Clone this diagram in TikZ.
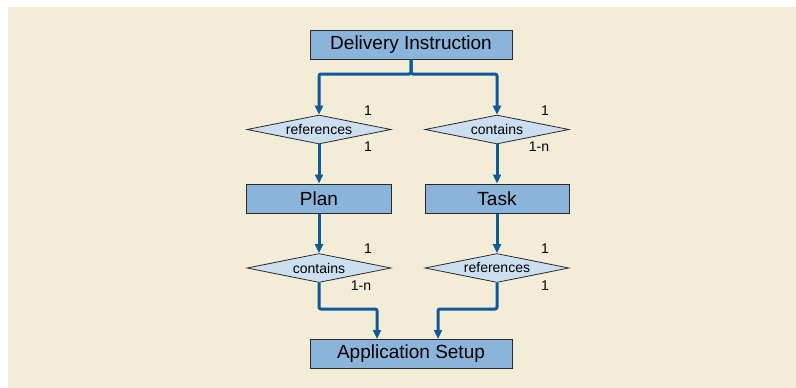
\documentclass[tikz,border=0pt]{standalone}
\usepackage{fontspec}
\setmainfont{Liberation Sans}
\usetikzlibrary{shapes.geometric,arrows.meta}
\definecolor{bgbeige}{HTML}{F3ECD6}
\definecolor{boxblue}{HTML}{8AB4D9}
\definecolor{diablue}{HTML}{CCDFF1}
\definecolor{linkblue}{HTML}{0B5A9C}
\definecolor{edgegray}{HTML}{2A2A2A}
\tikzset{
  entity/.style={draw=edgegray, line width=1pt, fill=boxblue, minimum width=#1, minimum height=29pt, inner sep=0pt, font=\fontsize{19}{21}\selectfont, text=black},
  relation/.style={diamond, draw=edgegray, line width=0.8pt, fill=diablue, aspect=5, minimum width=144pt, minimum height=29pt, inner sep=0pt, font=\fontsize{14}{16}\selectfont},
  card/.style={font=\fontsize{14}{16}\selectfont, inner sep=0pt},
  link/.style={draw=linkblue, line width=3pt, rounded corners=2pt, -{Triangle[length=9pt,width=8pt]}}
}
\begin{document}
\begin{tikzpicture}[x=1pt,y=-1pt]
\useasboundingbox (0,0) rectangle (796,388);
\fill[white] (0,0) rectangle (796,388);
\fill[bgbeige] (8,7) rectangle (796,388);

\node[entity=202pt] (di) at (411,44.5) {Delivery Instruction};
\node[relation] (r1) at (319,129.5) {references};
\node[relation] (r2) at (497,129.5) {contains};
\node[entity=145pt] (plan) at (319,198.5) {Plan};
\node[entity=144pt] (task) at (497,198.5) {Task};
\node[relation] (r3) at (319,268) {contains};
\node[relation] (r4) at (497,268) {references};
\node[entity=202pt] (as) at (411,353.5) {Application Setup};

\node[card] (c1) at (368,111) {1};
\node[card] (c2) at (368,147) {1};
\node[card] (c3) at (545,111) {1};
\node[card] (c4) at (539,147) {1-n};
\node[card] (c5) at (368,249) {1};
\node[card] (c6) at (361,286) {1-n};
\node[card] (c7) at (545,249) {1};
\node[card] (c8) at (545,286) {1};

\coordinate (split) at (411,74);
\draw[link] (di.south) -- (split) -| (r1.north);
\draw[link] (di.south) -- (split) -| (r2.north);
\draw[link] (r1.south) -- (plan.north);
\draw[link] (r2.south) -- (task.north);
\draw[link] (plan.south) -- (r3.north);
\draw[link] (task.south) -- (r4.north);
\draw[link] (r3.south) |- (377,309) -- (377,339);
\draw[link] (r4.south) |- (438,309) -- (438,339);
\end{tikzpicture}
\end{document}
